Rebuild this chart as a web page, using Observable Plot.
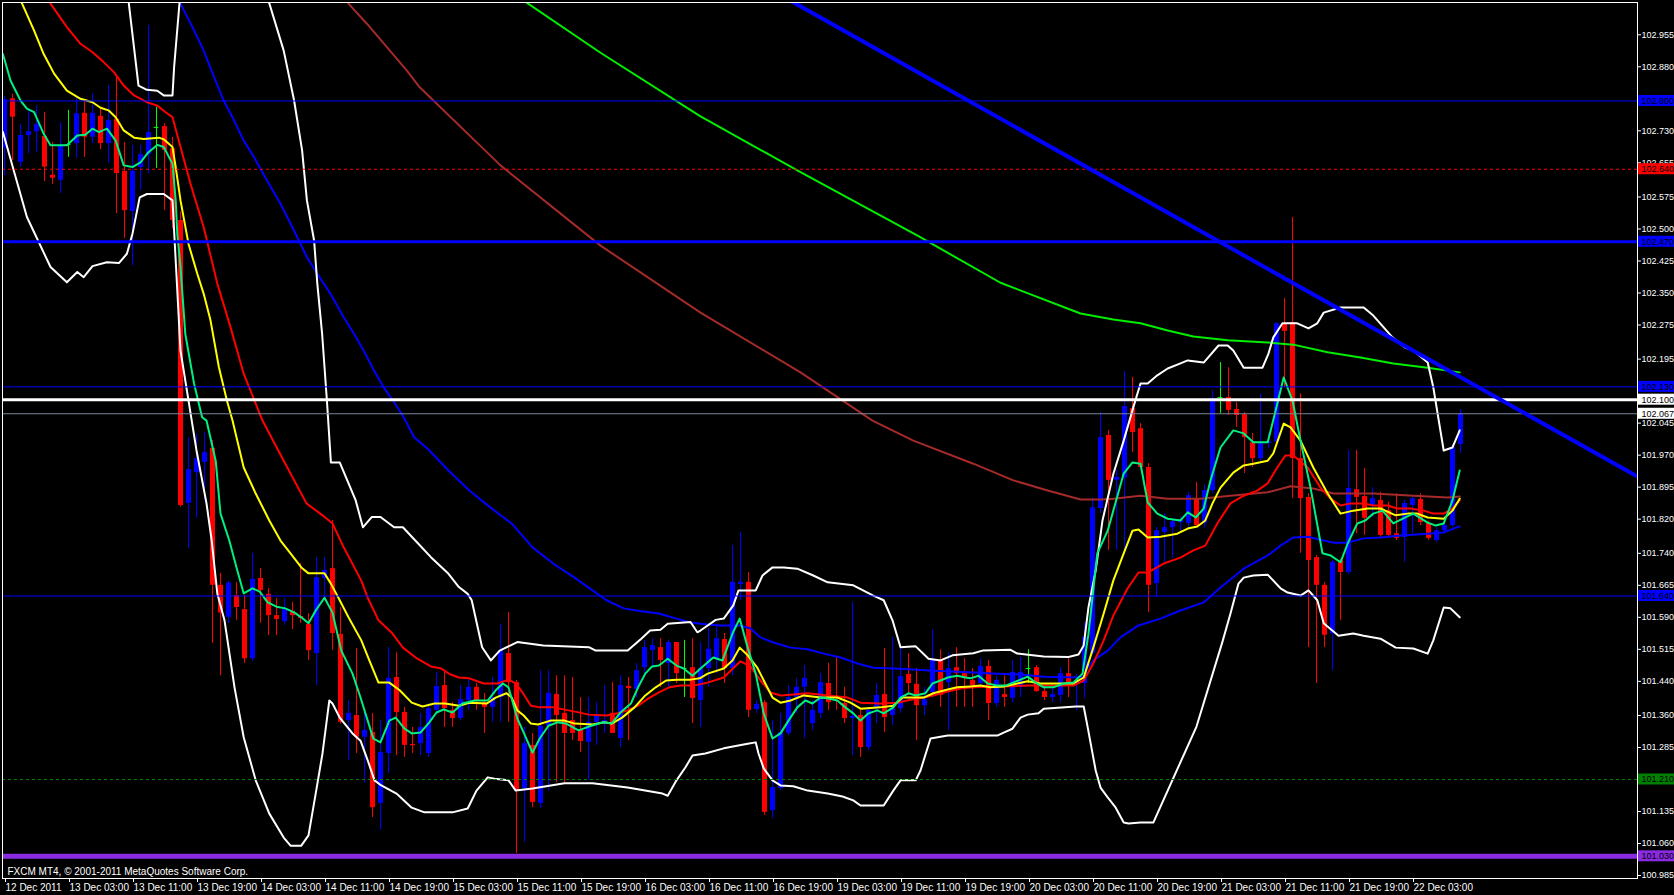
<!DOCTYPE html>
<html><head><meta charset="utf-8">
<script src="https://cdn.jsdelivr.net/npm/d3@7"></script>
<script src="https://cdn.jsdelivr.net/npm/@observablehq/plot@0.6"></script>
<style>html,body{margin:0;padding:0;background:#000;overflow:hidden}</style>
</head><body><div id="chart"></div>
<script>
// ---- hourly candles (bar index = position) ----
const opens = [102.690,102.805,102.656,102.719,102.728,102.717,102.626,102.614,102.698,102.700,
102.771,102.715,102.764,102.700,102.757,102.635,102.541,102.644,102.674,102.738,
102.740,102.688,102.520,101.857,101.929,101.953,101.986,101.665,101.590,101.641,
101.608,101.493,101.681,101.644,101.594,101.580,101.604,101.592,101.573,101.505,
101.681,101.704,101.550,101.348,101.360,101.309,101.320,101.154,101.271,101.449,
101.367,101.292,101.294,101.271,101.372,101.430,101.372,101.353,101.395,101.426,
101.390,101.379,101.402,101.505,101.437,101.189,101.290,101.154,101.334,101.409,
101.365,101.348,101.325,101.297,101.344,101.339,101.365,101.306,101.428,101.421,
101.472,101.512,101.519,101.482,101.531,101.470,101.472,101.395,101.470,101.493,
101.538,101.470,101.667,101.672,101.374,101.390,101.137,101.189,101.318,101.402,
101.426,101.341,101.365,101.435,101.402,101.388,101.353,101.360,101.285,101.379,
101.409,101.360,101.376,101.456,101.433,101.383,101.414,101.491,101.437,101.472,
101.458,101.442,101.435,101.475,101.388,101.409,101.400,101.426,101.470,101.472,
101.416,101.402,101.407,101.458,101.435,101.435,101.505,101.845,102.016,101.911,
101.917,102.079,102.032,101.941,101.669,101.789,101.800,101.812,101.810,101.868,
101.810,101.887,102.105,102.105,102.077,102.065,101.999,101.962,101.997,102.000,
102.278,102.281,101.962,101.871,101.730,101.665,101.552,101.723,101.695,101.889,
101.873,101.852,101.864,101.840,101.786,101.777,101.852,101.866,101.810,101.770,
101.793,101.805,101.995];
const highs = [102.810,102.815,102.745,102.782,102.789,102.773,102.703,102.749,102.778,102.808,
102.801,102.817,102.782,102.836,102.860,102.703,102.696,102.696,102.977,102.785,
102.747,102.715,102.540,102.011,102.020,102.023,102.004,101.693,101.675,101.672,
101.641,101.740,101.704,101.658,101.634,101.634,101.625,101.716,101.599,101.730,
101.730,101.817,101.613,101.395,101.517,101.372,101.365,101.348,101.519,101.507,
101.379,101.332,101.365,101.388,101.461,101.465,101.390,101.430,101.447,101.435,
101.412,101.449,101.573,101.601,101.442,101.332,101.318,101.465,101.465,101.453,
101.453,101.449,101.402,101.402,101.390,101.430,101.437,101.453,101.449,101.482,
101.536,101.540,101.540,101.536,101.531,101.536,101.540,101.531,101.564,101.571,
101.552,101.758,101.789,101.695,101.395,101.395,101.348,101.365,101.430,101.447,
101.477,101.395,101.458,101.482,101.496,101.426,101.625,101.372,101.379,101.435,
101.517,101.543,101.517,101.505,101.470,101.426,101.561,101.514,101.507,101.519,
101.493,101.470,101.493,101.489,101.453,101.453,101.489,101.496,101.514,101.477,
101.435,101.430,101.472,101.493,101.456,101.578,101.870,102.070,102.028,101.935,
102.166,102.152,102.044,101.950,101.800,101.833,101.820,101.825,101.883,101.906,
101.900,102.121,102.187,102.175,102.093,102.070,102.021,102.114,102.020,102.281,
102.337,102.527,102.114,101.880,101.735,101.672,101.723,101.726,101.981,101.981,
101.939,101.894,101.883,101.860,101.880,101.864,101.875,101.880,101.815,101.800,
101.812,101.995,102.077];
const lows = [102.625,102.660,102.645,102.676,102.680,102.611,102.604,102.583,102.668,102.665,
102.668,102.700,102.686,102.654,102.536,102.478,102.414,102.590,102.630,102.642,
102.543,102.500,101.848,101.751,101.822,101.864,101.529,101.453,101.575,101.583,
101.482,101.487,101.576,101.547,101.547,101.571,101.561,101.576,101.489,101.430,
101.637,101.512,101.340,101.255,101.271,101.201,101.121,101.091,101.224,101.266,
101.262,101.271,101.266,101.262,101.365,101.332,101.332,101.348,101.372,101.372,
101.318,101.344,101.344,101.344,101.037,101.063,101.144,101.142,101.184,101.203,
101.203,101.301,101.273,101.208,101.290,101.318,101.318,101.285,101.301,101.402,
101.449,101.472,101.426,101.423,101.435,101.402,101.341,101.332,101.426,101.458,
101.435,101.453,101.630,101.355,101.365,101.126,101.119,101.184,101.313,101.365,
101.306,101.325,101.353,101.372,101.372,101.341,101.266,101.262,101.278,101.341,
101.320,101.336,101.365,101.407,101.301,101.360,101.402,101.379,101.325,101.379,
101.379,101.379,101.423,101.348,101.379,101.379,101.390,101.402,101.435,101.414,
101.395,101.390,101.390,101.402,101.372,101.400,101.500,101.833,101.747,101.747,
101.747,101.976,101.939,101.601,101.637,101.719,101.728,101.786,101.798,101.800,
101.800,101.880,102.068,102.063,102.035,101.927,101.941,101.950,101.985,101.990,
102.129,101.868,101.740,101.519,101.435,101.519,101.465,101.583,101.690,101.786,
101.782,101.824,101.775,101.775,101.770,101.719,101.786,101.805,101.770,101.765,
101.785,101.800,101.974];
const closes = [102.803,102.762,102.719,102.728,102.745,102.645,102.619,102.696,102.698,102.770,
102.715,102.771,102.700,102.754,102.630,102.543,102.635,102.674,102.726,102.738,
102.684,102.520,101.852,101.936,101.962,101.976,101.665,101.600,101.670,101.613,
101.493,101.679,101.653,101.594,101.585,101.608,101.594,101.587,101.512,101.683,
101.700,101.552,101.344,101.365,101.309,101.325,101.144,101.273,101.447,101.367,
101.290,101.289,101.332,101.376,101.428,101.376,101.353,101.397,101.426,101.395,
101.379,101.402,101.512,101.437,101.184,101.294,101.156,101.334,101.412,101.360,
101.318,101.318,101.299,101.344,101.360,101.348,101.318,101.430,101.423,101.465,
101.519,101.524,101.489,101.531,101.458,101.470,101.400,101.470,101.515,101.540,
101.470,101.672,101.672,101.372,101.386,101.133,101.191,101.320,101.402,101.426,
101.447,101.372,101.437,101.390,101.400,101.353,101.358,101.285,101.372,101.407,
101.355,101.376,101.451,101.435,101.383,101.397,101.489,101.407,101.470,101.458,
101.447,101.430,101.475,101.388,101.442,101.402,101.461,101.461,101.470,101.416,
101.402,101.409,101.458,101.435,101.442,101.543,101.847,102.011,101.911,101.918,
102.084,102.023,101.941,101.665,101.793,101.800,101.814,101.817,101.875,101.805,
101.887,102.103,102.105,102.075,102.063,102.011,101.962,101.997,102.002,102.278,
102.260,101.962,101.868,101.723,101.665,101.548,101.719,101.695,101.892,101.871,
101.822,101.868,101.782,101.782,101.775,101.857,101.868,101.812,101.775,101.793,
101.805,101.988,102.067];

// ---- time axis labels (one every 8 bars) ----
const timeLabels = ["12 Dec 2011","13 Dec 03:00","13 Dec 11:00","13 Dec 19:00","14 Dec 03:00","14 Dec 11:00",
"14 Dec 19:00","15 Dec 03:00","15 Dec 11:00","15 Dec 19:00","16 Dec 03:00","16 Dec 11:00","16 Dec 19:00",
"19 Dec 03:00","19 Dec 11:00","19 Dec 19:00","20 Dec 03:00","20 Dec 11:00","20 Dec 19:00","21 Dec 03:00",
"21 Dec 11:00","21 Dec 19:00","22 Dec 03:00"];
const priceTicks = [102.955,102.880,102.730,102.655,102.575,102.500,102.425,102.350,102.275,102.195,
102.045,101.970,101.895,101.820,101.740,101.665,101.590,101.515,101.440,101.360,101.285,
101.135,101.060,100.985];

// ---- horizontal levels ----
const levelValues = [102.800,102.640,102.470,102.130,102.100,102.067,101.640,101.210,101.030];

// ---- indicators: [bar, price] ----
const bbUpper = [[13,103.30],[15.5,103.035],[16.75,102.836],[17.8,102.826],[19.1,102.824],[19.9,102.813],[21,102.813],[21.2,102.879],[21.9,103.035],[22.5,103.4],[32,103.4],[33,103.035],[34.9,102.918],[36.2,102.801],[37.2,102.684],[37.8,102.567],[38.7,102.473],[39.1,102.372],[39.7,102.255],[40.3,102.098],[40.8,101.953],[41.9,101.953],[43.9,101.864],[44.8,101.801],[45.9,101.825],[47,101.825],[48.7,101.801],[49.8,101.801],[51.35,101.770],[53.3,101.731],[55.5,101.692],[56.8,101.661],[57.9,101.645],[58.4,101.630],[59.7,101.520],[60.8,101.489],[61.9,101.512],[64.1,101.532],[67.35,101.524],[73.05,101.520],[73.9,101.512],[77.9,101.512],[79.6,101.540],[80.7,101.559],[82,101.561],[82.9,101.575],[85.75,101.579],[86.6,101.555],[87,101.559],[88.9,101.584],[89.9,101.587],[91.1,101.618],[91.75,101.653],[93.9,101.653],[94.75,101.688],[96,101.707],[97.4,101.707],[99.1,101.704],[101.1,101.688],[102.9,101.672],[106.1,101.665],[108.6,101.641],[109.9,101.630],[111,101.583],[112,101.520],[113.9,101.522],[115.5,101.493],[117,101.489],[118.5,101.501],[121.1,101.506],[122.25,101.512],[125.75,101.514],[126.6,101.505],[129.9,101.498],[133,101.497],[134.25,101.503],[134.9,101.524],[135.5,101.614],[136.4,101.700],[137.25,101.817],[138.6,101.926],[139.9,102.004],[141.1,102.082],[142,102.138],[142.9,102.138],[144.1,102.157],[145.4,102.173],[147,102.185],[147.9,102.192],[149.9,102.187],[151.75,102.227],[152.9,102.227],[153.6,102.215],[154.9,102.175],[157.25,102.175],[158,102.208],[158.6,102.246],[159.75,102.279],[161.6,102.279],[163,102.267],[164.1,102.279],[164.9,102.304],[167,102.316],[169.9,102.316],[171.1,102.297],[173.5,102.246],[175.1,102.222],[176.1,102.215],[177.9,102.187],[178.6,102.129],[179.9,101.981],[181,101.988],[181.9,102.028]];
const bbLower = [[-0.2,102.727],[2.8,102.528],[5.75,102.411],[7.8,102.375],[9.1,102.399],[9.9,102.387],[11,102.413],[12.8,102.422],[14.3,102.420],[15.3,102.442],[16,102.489],[16.9,102.574],[17.8,102.582],[19.9,102.582],[21,102.567],[22,102.215],[24,101.981],[25.25,101.857],[25.9,101.770],[26.6,101.646],[27.5,101.583],[28.75,101.426],[29.9,101.309],[31.4,101.208],[33.1,101.130],[34.9,101.074],[35.75,101.055],[37.1,101.055],[38,101.079],[38.9,101.177],[39.75,101.271],[40.6,101.395],[41,101.388],[41.9,101.355],[43.5,101.318],[44.5,101.301],[45.4,101.255],[46.25,101.208],[47.1,101.196],[49,101.177],[50.9,101.144],[52.5,101.133],[56,101.133],[57.9,101.142],[59,101.184],[60.4,101.215],[61.25,101.212],[63,101.208],[63.9,101.184],[66,101.189],[70,101.201],[73.5,101.201],[77.9,101.191],[82.25,101.177],[82.9,101.172],[84,101.208],[85.1,101.238],[86,101.266],[87.6,101.271],[89.9,101.283],[92.9,101.294],[93.9,101.297],[94.25,101.271],[94.9,101.236],[96,101.208],[97,101.196],[98.6,101.194],[100.4,101.184],[102.9,101.177],[104.75,101.170],[106.1,101.161],[107,101.149],[109.9,101.149],[111.1,101.184],[112,101.208],[113.9,101.208],[114.5,101.231],[115.75,101.306],[117.9,101.313],[124.1,101.313],[124.9,101.320],[126,101.329],[127,101.355],[127.9,101.362],[129.25,101.365],[129.9,101.376],[133.9,101.381],[134.9,101.381],[135.4,101.332],[136.4,101.231],[137,101.191],[137.9,101.168],[138.9,101.144],[139.9,101.109],[140.5,101.107],[142,101.109],[143.6,101.109],[149,101.334],[152.25,101.533],[153.25,101.599],[154.25,101.669],[154.9,101.683],[156.1,101.688],[157.9,101.690],[159.5,101.658],[160.4,101.648],[162,101.641],[163,101.653],[164.1,101.630],[164.9,101.576],[166.75,101.547],[168.6,101.552],[169.9,101.547],[172,101.540],[173.9,101.519],[176.1,101.517],[177.9,101.505],[178.6,101.536],[179.9,101.613],[180.75,101.611],[181.9,101.590]];
const maFast = [[-0.2,102.910],[0.75,102.848],[2,102.801],[2.8,102.782],[3.7,102.774],[4.9,102.723],[5.75,102.696],[7.8,102.696],[9.1,102.719],[10.1,102.721],[11,102.735],[11.8,102.727],[12.8,102.735],[13.9,102.707],[14.9,102.649],[16,102.645],[17,102.656],[18,102.680],[19.1,102.697],[19.9,102.692],[21,102.653],[21.4,102.567],[21.6,102.489],[22,102.411],[22.6,102.254],[23.7,102.137],[24.7,102.059],[25.25,102.051],[26.4,101.957],[27,101.833],[28.1,101.770],[29,101.707],[29.9,101.646],[31,101.658],[31.9,101.650],[32.9,101.625],[34,101.615],[35.1,101.611],[36.25,101.601],[37.1,101.590],[38,101.576],[38.9,101.606],[40,101.636],[41,101.601],[42.1,101.512],[43.5,101.458],[44.5,101.402],[45.4,101.348],[46.1,101.306],[47,101.297],[48.1,101.348],[48.9,101.355],[50,101.329],[50.9,101.318],[52,101.320],[53.1,101.344],[54,101.367],[54.9,101.374],[56,101.367],[57.25,101.388],[58.75,101.395],[60.4,101.395],[61.4,101.419],[62.3,101.435],[63,101.426],[64.1,101.353],[64.9,101.320],[66,101.273],[66.9,101.306],[68,101.336],[69.1,101.344],[70.2,101.341],[71.75,101.325],[73.05,101.334],[74.8,101.344],[75.9,101.341],[77,101.367],[78.3,101.388],[79.2,101.426],[80.1,101.458],[80.95,101.475],[81.8,101.477],[82.9,101.493],[84,101.477],[84.9,101.470],[86,101.453],[87,101.470],[88.6,101.496],[89.75,101.489],[91,101.552],[91.9,101.587],[92.9,101.519],[93.9,101.458],[94.9,101.365],[96,101.306],[97,101.318],[98,101.348],[99.1,101.379],[100.1,101.395],[101,101.388],[102,101.402],[103,101.400],[104.1,101.395],[105.1,101.379],[106.1,101.365],[107,101.348],[108,101.365],[109.1,101.372],[109.9,101.365],[111.1,101.379],[112,101.402],[113,101.412],[113.9,101.407],[115.1,101.412],[116,101.435],[117,101.442],[117.9,101.449],[119.1,101.453],[120.1,101.449],[120.75,101.447],[121.75,101.453],[122.9,101.435],[124.1,101.430],[125.1,101.430],[126.1,101.437],[127.9,101.451],[128.9,101.437],[129.9,101.426],[131.1,101.426],[132.4,101.435],[133.6,101.437],[134.75,101.458],[135.5,101.552],[136.6,101.740],[137.9,101.793],[138.6,101.840],[139.9,101.927],[141,101.953],[142,101.950],[142.9,101.859],[144.1,101.833],[145.4,101.821],[147,101.817],[147.9,101.836],[148.9,101.824],[149.9,101.845],[150.75,101.911],[152,101.988],[153.6,102.028],[154.9,102.021],[156.1,102.000],[157.9,102.000],[158.9,102.075],[159.9,102.152],[161,102.098],[162,102.004],[163.25,101.894],[164.75,101.740],[165.75,101.735],[167,101.719],[167.9,101.763],[169.1,101.810],[170.1,101.817],[171.1,101.833],[172.25,101.840],[173.6,101.810],[175.1,101.824],[176.1,101.833],[177.9,101.812],[178.9,101.805],[179.9,101.810],[181,101.864],[181.9,101.934]];
const maYellow = [[1.4,103.08],[2.2,103.028],[3.7,102.965],[4.9,102.910],[6.2,102.864],[7.8,102.824],[9.5,102.805],[11,102.797],[12,102.784],[13,102.778],[13.9,102.762],[14.9,102.731],[16.2,102.714],[17.4,102.711],[19.3,102.714],[19.9,102.710],[21,102.692],[21.4,102.645],[22,102.567],[23,102.465],[24.1,102.395],[24.9,102.348],[25.75,102.286],[26.8,102.176],[27.8,102.098],[28.5,102.051],[29.9,101.941],[31.4,101.880],[33.1,101.817],[34.5,101.770],[35.75,101.740],[37.1,101.707],[38,101.693],[40,101.693],[40.8,101.669],[41.9,101.630],[43,101.590],[44.6,101.536],[45.6,101.489],[46.75,101.437],[48.1,101.437],[49.4,101.419],[50.9,101.390],[52.25,101.381],[53.75,101.388],[55.1,101.388],[56.8,101.383],[58.1,101.390],[60.3,101.388],[61.4,101.402],[62.75,101.412],[63.4,101.402],[64.1,101.372],[64.9,101.360],[65.8,101.341],[66.7,101.339],[68.25,101.348],[70,101.348],[71.3,101.341],[73.5,101.339],[75,101.344],[75.9,101.341],[77.2,101.355],[78.75,101.379],[80.1,101.407],[81.4,101.426],[82.7,101.442],[84,101.444],[85.75,101.444],[86.9,101.447],[87.9,101.458],[89.9,101.470],[91,101.489],[91.9,101.519],[92.9,101.501],[94.1,101.472],[95.1,101.435],[96,101.402],[97,101.390],[98.25,101.395],[99.9,101.407],[102,101.402],[104.1,101.402],[105.75,101.390],[107,101.376],[109.5,101.379],[111.1,101.383],[112.25,101.402],[114.9,101.402],[116.1,101.412],[117.9,101.421],[119.1,101.426],[120.75,101.428],[122,101.430],[123.25,101.426],[124.9,101.428],[126.6,101.435],[127.9,101.440],[129.5,101.435],[133.6,101.435],[134.9,101.449],[136.1,101.519],[137.4,101.599],[138.6,101.676],[139.9,101.740],[141,101.793],[141.75,101.796],[142.9,101.777],[144.5,101.779],[146.6,101.786],[147.9,101.798],[149.1,101.803],[150.1,101.817],[151,101.857],[152,101.894],[153.6,101.929],[154.9,101.946],[156.1,101.950],[157.9,101.957],[158.6,101.974],[159.9,102.044],[160.75,102.035],[162,102.004],[163.6,101.941],[165.4,101.880],[167,101.833],[168.6,101.840],[170.4,101.845],[172,101.845],[173.9,101.829],[175.4,101.833],[176.6,101.833],[177.9,101.824],[179.9,101.821],[181,101.840],[181.9,101.868]];
const maRed = [[4.5,103.07],[5.75,103.028],[7.8,102.973],[9.5,102.934],[11,102.914],[12.4,102.891],[13.7,102.867],[14.9,102.836],[16.2,102.813],[17.8,102.797],[19.1,102.789],[20.1,102.774],[21,102.762],[22,102.692],[23.25,102.606],[24.9,102.504],[26.6,102.372],[28.25,102.270],[29.9,102.161],[32.25,102.051],[34.9,101.957],[37.75,101.857],[39.75,101.829],[41,101.810],[42.4,101.754],[44.6,101.676],[45.4,101.636],[46.75,101.583],[48.5,101.552],[49.8,101.519],[51.6,101.493],[53.3,101.475],[54.6,101.470],[55.75,101.456],[56.8,101.449],[58.1,101.447],[59.9,101.435],[61.6,101.435],[63,101.444],[63.9,101.435],[64.75,101.414],[65.8,101.383],[66.9,101.379],[68.6,101.379],[71.3,101.369],[73.05,101.362],[75.25,101.360],[76.6,101.365],[77.9,101.372],[79.2,101.383],[80.5,101.400],[81.8,101.414],[83.1,101.426],[84.5,101.430],[86.1,101.430],[87.9,101.437],[89.9,101.449],[92,101.487],[93.25,101.475],[94.5,101.442],[95.75,101.414],[97,101.407],[98.6,101.409],[100.4,101.412],[102.9,101.407],[105.4,101.402],[107,101.390],[109.5,101.388],[111.6,101.390],[113.25,101.397],[114.9,101.402],[116.1,101.407],[117.9,101.416],[119.5,101.423],[121.1,101.426],[124.5,101.428],[127.9,101.430],[133.6,101.430],[134.9,101.442],[136.1,101.482],[137.4,101.536],[138.6,101.594],[140.4,101.658],[141.75,101.695],[142.9,101.695],[144.9,101.716],[147,101.730],[148.6,101.747],[150.1,101.758],[151.6,101.810],[153.25,101.857],[154.9,101.875],[156.6,101.887],[157.9,101.904],[159.1,101.941],[160.1,101.969],[161.1,101.969],[162.9,101.941],[164.5,101.894],[165.75,101.868],[167,101.852],[168.25,101.857],[169.9,101.857],[171.1,101.852],[172.9,101.852],[174.1,101.845],[175.75,101.845],[177.4,101.840],[178.6,101.833],[179.9,101.833],[181,101.845],[181.9,101.864]];
const maBlue = [[20.75,103.08],[22,103.028],[23.5,102.973],[24.9,102.918],[26.2,102.856],[27.4,102.801],[28.7,102.754],[29.9,102.707],[31.2,102.668],[32.8,102.614],[34.5,102.559],[36.2,102.496],[37.8,102.434],[39.1,102.395],[40.75,102.348],[42.4,102.293],[43.7,102.254],[44.9,102.215],[46.2,102.168],[47.4,102.129],[48.7,102.094],[49.9,102.059],[51.2,102.012],[52.9,101.985],[55.5,101.934],[58.1,101.887],[60.75,101.847],[63.4,101.810],[66,101.754],[68.6,101.716],[71.25,101.683],[73.9,101.648],[75.25,101.630],[77.4,101.611],[79.6,101.604],[81.8,101.599],[84,101.587],[85.75,101.578],[87.9,101.573],[89.5,101.571],[92,101.571],[93.25,101.564],[94.5,101.543],[96.1,101.531],[98.25,101.519],[100.4,101.515],[102.4,101.505],[104.5,101.496],[106.6,101.482],[108.6,101.472],[111.1,101.470],[113.6,101.468],[116.1,101.465],[118.6,101.463],[121.1,101.461],[124.1,101.458],[127,101.456],[129.9,101.451],[134.5,101.449],[136.1,101.489],[137.9,101.512],[139.5,101.543],[141.75,101.571],[144.5,101.587],[147,101.606],[149.9,101.625],[152,101.660],[154.9,101.704],[157.9,101.735],[159.5,101.758],[161.1,101.777],[162.9,101.779],[164.5,101.772],[166.1,101.765],[167.9,101.765],[169.9,101.775],[172,101.777],[174.5,101.782],[177.9,101.786],[179.9,101.789],[181.9,101.803]];
const maBrown = [[42,103.07],[43,103.028],[45.3,102.981],[47.8,102.926],[50.3,102.871],[51.9,102.832],[62,102.649],[74.5,102.461],[87,102.304],[99.5,102.164],[108.5,102.051],[113.6,102.004],[121.1,101.950],[126.1,101.911],[130.4,101.887],[134.5,101.866],[137,101.866],[138.6,101.868],[142,101.875],[145.4,101.868],[149.5,101.868],[153.25,101.875],[157.9,101.883],[160.75,101.897],[163.6,101.892],[166.1,101.880],[171.1,101.880],[176.1,101.875],[180.4,101.871],[181.9,101.873]];
const maLime = [[63.9,103.06],[64.9,103.035],[74.5,102.913],[87,102.764],[99.5,102.633],[114.25,102.483],[124.5,102.374],[134.5,102.302],[138.6,102.288],[142,102.279],[145.4,102.262],[148.6,102.248],[152.9,102.239],[157.9,102.234],[161.1,102.229],[165.4,102.211],[169.5,102.199],[173.6,102.185],[177.9,102.175],[181.9,102.164]];
const trendBars = [98.25, 204.1];
const trendPrices = [103.035, 101.920];

// ---------------- drawing ----------------
const BLUE = "#0000ff", RED = "#ff0000", DOJI = "#00ff00";
const candles = opens.map((o, i) => ({i, o, h: highs[i], l: lows[i], c: closes[i]}));
const candleColor = d => d.c > d.o ? BLUE : d.c < d.o ? RED : DOJI;
const bodies = candles.filter(d => d.c !== d.o);
const dojis = candles.filter(d => d.c === d.o);
const xMin = -0.25, xMax = 204.125;
const yMin = 100.978, yMax = 103.0307;
const pts = arr => arr.map(([x, y]) => ({x, y}));
const levelStyle = [
  {stroke: BLUE, w: 1, box: BLUE},
  {stroke: RED, w: 1, dash: "3,3", box: RED},
  {stroke: BLUE, w: 3, box: BLUE},
  {stroke: BLUE, w: 1, box: BLUE},
  {stroke: "#ffffff", w: 3, box: "#ffffff"},
  {stroke: "#778899", w: 1, box: "#ffffff"},
  {stroke: BLUE, w: 1, box: BLUE},
  {stroke: "#008000", w: 1, dash: "3,3", box: "#008000"},
  {stroke: "#8a2be2", w: 5, box: "#8a2be2"}
];
const levels = levelValues.map((v, k) => ({v, ...levelStyle[k]}));
const tickIdx = timeLabels.map((_, k) => k * 8);
const lineOpts = (stroke) => ({x: "x", y: "y", stroke, strokeWidth: 2, clip: true, strokeLinejoin: "round"});
const boxHalf = 5.5 * (yMax - yMin) / 876;

const chart = Plot.plot({
  width: 1674, height: 895,
  marginLeft: 2, marginRight: 37, marginTop: 2, marginBottom: 17,
  style: {background: "#000", color: "#fff", fontFamily: "'Liberation Sans', Arial, sans-serif", fontSize: "10px", overflow: "visible"},
  x: {domain: [xMin, xMax], axis: null},
  y: {domain: [yMin, yMax], axis: null},
  marks: [
    // candles
    Plot.ruleX(candles, {x: "i", y1: "l", y2: "h", stroke: candleColor, strokeWidth: 1, clip: true}),
    Plot.ruleX(bodies, {x: "i", y1: "o", y2: "c", stroke: candleColor, strokeWidth: 5, clip: true}),
    Plot.ruleY(dojis, {y: "o", x1: d => d.i - 0.3, x2: d => d.i + 0.3, stroke: DOJI, strokeWidth: 1}),
    // indicators
    Plot.line(pts(maBrown), lineOpts("#a52a2a")),
    Plot.line(pts(maLime), lineOpts("#00ee00")),
    Plot.line(pts(maBlue), lineOpts(BLUE)),
    Plot.line(pts(bbUpper), lineOpts("#ffffff")),
    Plot.line(pts(bbLower), lineOpts("#ffffff")),
    Plot.line(pts(maRed), lineOpts(RED)),
    Plot.line(pts(maYellow), lineOpts("#ffff00")),
    Plot.line(pts(maFast), lineOpts("#00f080")),
    // horizontal levels
    ...levels.map(l => Plot.ruleY([l.v], {stroke: l.stroke, strokeWidth: l.w, strokeDasharray: l.dash})),
    // trend line
    Plot.line(trendBars.map((b, k) => ({x: b, y: trendPrices[k]})), {x: "x", y: "y", stroke: BLUE, strokeWidth: 4, clip: true}),
    // axes
    Plot.axisY({anchor: "right", ticks: priceTicks, tickFormat: d => d.toFixed(3), tickSize: 3, tickPadding: 1, stroke: "#fff", fill: "#fff", fontSize: 9}),
    Plot.axisX({anchor: "bottom", ticks: tickIdx, tickFormat: d => timeLabels[d / 8], tickSize: 4, tickPadding: 1, textAnchor: "start", dx: 1, stroke: "#fff", fill: "#fff", fontSize: 10}),
    // level price boxes on the axis
    Plot.rect(levels, {x1: () => xMax + 0.12, x2: () => xMax + 5, y1: d => d.v - boxHalf, y2: d => d.v + boxHalf, fill: d => d.box}),
    Plot.text(levels, {y: "v", text: d => d.v.toFixed(3), frameAnchor: "right", dx: 4, textAnchor: "start", fill: "#000", fontSize: 9}),
    Plot.frame({stroke: "#fff"}),
    Plot.text(["FXCM MT4, \u00a9 2001-2011 MetaQuotes Software Corp."], {frameAnchor: "bottom-left", dx: 5, dy: -4, textAnchor: "start", lineAnchor: "bottom", fill: "#fff", fontSize: 10})
  ]
});
document.getElementById("chart").append(chart);
</script>
</body></html>
